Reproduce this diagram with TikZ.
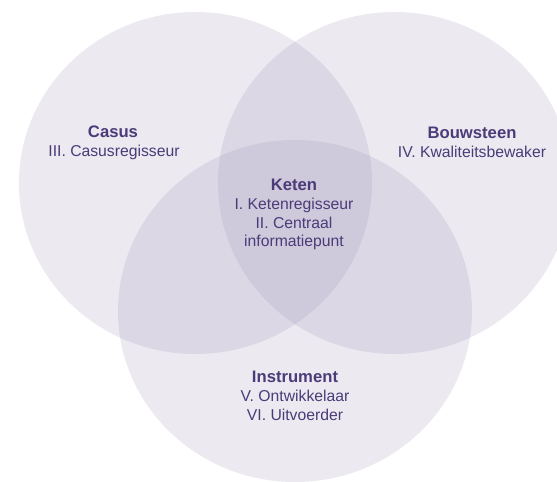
\documentclass[tikz,border=0pt]{standalone}
\usepackage{fontspec}
\setmainfont{Liberation Sans}
\definecolor{venn}{RGB}{150,138,180}
\definecolor{txt}{RGB}{74,60,120}
\tikzset{
  vset/.style={fill=venn, fill opacity=0.18, draw=none},
  ttl/.style={anchor=base, text=txt, font=\fontsize{12.5pt}{14pt}\selectfont\bfseries, inner sep=0pt},
  sub/.style={anchor=base, text=txt, font=\fontsize{11.8pt}{14pt}\selectfont, inner sep=0pt}
}
\begin{document}
\begin{tikzpicture}[x=0.75pt,y=-0.75pt]
\useasboundingbox (0,0) rectangle (557,482);
\clip (0,0) rectangle (557,482);
\fill[white] (0,0) rectangle (557,482);
\fill[vset] (195.5,183) ellipse [x radius=132.4pt, y radius=128.25pt];
\fill[vset] (394.5,183) ellipse [x radius=132.4pt, y radius=128.25pt];
\fill[vset] (295,311) ellipse [x radius=132.75pt, y radius=128.25pt];
\node[ttl] (casus) at (113,137) {Casus};
\node[sub] (casus1) at (114,156) {III. Casusregisseur};
\node[ttl] (bouw) at (472,138) {Bouwsteen};
\node[sub] (bouw1) at (472,157) {IV. Kwaliteitsbewaker};
\node[ttl] (keten) at (294,190) {Keten};
\node[sub] (keten1) at (294,209) {I. Ketenregisseur};
\node[sub] (keten2) at (294,228) {II. Centraal};
\node[sub] (keten3) at (294,246) {informatiepunt};
\node[ttl] (instr) at (295,382) {Instrument};
\node[sub] (instr1) at (295,401) {V. Ontwikkelaar};
\node[sub] (instr2) at (295,420) {VI. Uitvoerder};
\end{tikzpicture}
\end{document}
